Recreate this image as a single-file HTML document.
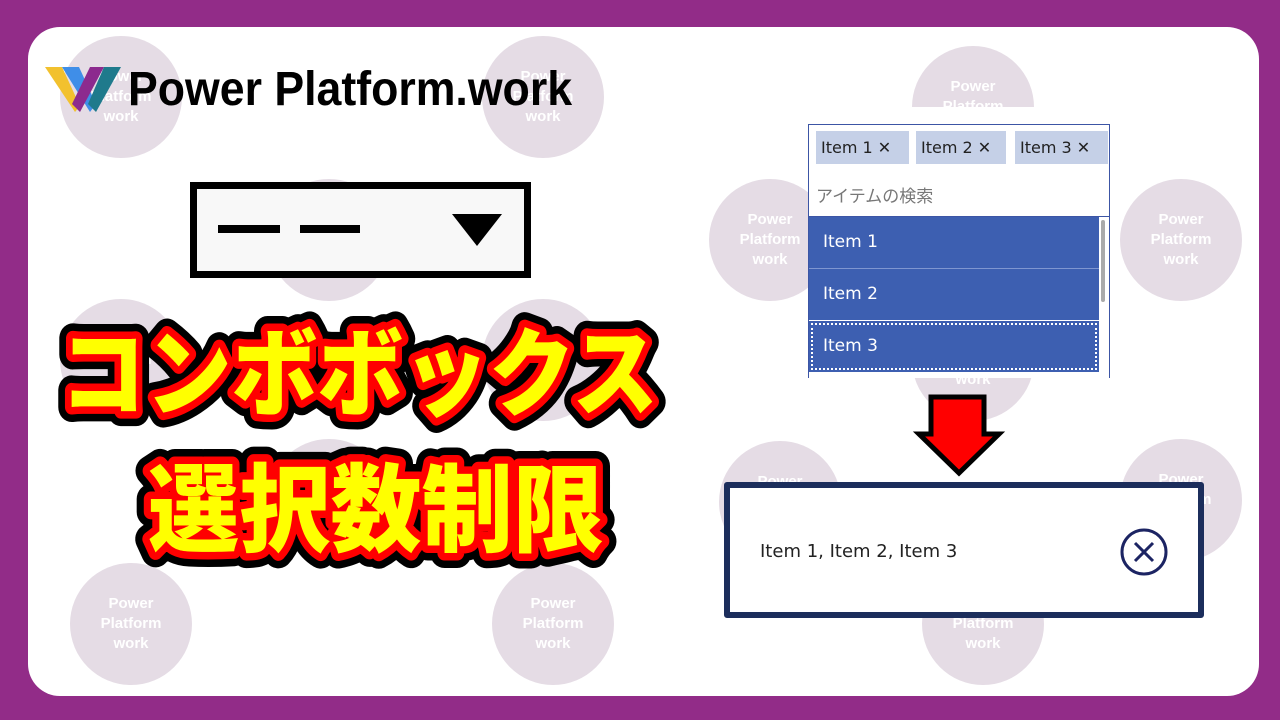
<!DOCTYPE html>
<html><head><meta charset="utf-8">
<style>
*{margin:0;padding:0;box-sizing:border-box}
body{width:1280px;height:720px;background:#922c88;position:relative;overflow:hidden;font-family:"Liberation Sans","Noto Sans CJK JP",sans-serif}
.card{position:absolute;left:28px;top:27px;width:1231px;height:669px;background:#fff;border-radius:32px;overflow:hidden}
.c{position:absolute;width:122px;height:122px;border-radius:50%;background:#e5dce5;color:#fff;font-weight:bold;font-size:15px;line-height:20px;text-align:center;padding-top:31px}
.tag{position:absolute;top:131px;height:33px;background:#c5d0e7;font-family:"DejaVu Sans",sans-serif;font-size:16px;line-height:33px;padding-left:5px;color:#222}
.row{position:absolute;left:809px;width:290px;height:51px;background:#3d5fb1;color:#fff;font-family:"DejaVu Sans",sans-serif;font-size:17px;line-height:51px;padding-left:14px}
</style></head><body>
<div class="card">
<div class="c" style="left:32px;top:9px">Power<br>Platform<br>work</div>
<div class="c" style="left:454px;top:9px">Power<br>Platform<br>work</div>
<div class="c" style="left:884px;top:19px">Power<br>Platform<br>work</div>
<div style="position:absolute;left:870px;top:80px;width:160px;height:60px;background:#fff"></div>
<div class="c" style="left:240px;top:152px">Power<br>Platform<br>work</div>
<div class="c" style="left:681px;top:152px">Power<br>Platform<br>work</div>
<div class="c" style="left:1092px;top:152px">Power<br>Platform<br>work</div>
<div class="c" style="left:32px;top:272px">Power<br>Platform<br>work</div>
<div class="c" style="left:454px;top:272px">Power<br>Platform<br>work</div>
<div class="c" style="left:884px;top:272px">Power<br>Platform<br>work</div>
<div class="c" style="left:240px;top:412px">Power<br>Platform<br>work</div>
<div class="c" style="left:691px;top:414px">Power<br>Platform<br>work</div>
<div class="c" style="left:1092px;top:412px">Power<br>Platform<br>work</div>
<div class="c" style="left:42px;top:536px">Power<br>Platform<br>work</div>
<div class="c" style="left:464px;top:536px">Power<br>Platform<br>work</div>
<div class="c" style="left:894px;top:536px">Power<br>Platform<br>work</div>
</div>

<svg style="position:absolute;left:0;top:0" width="1280" height="720">
<polygon points="45,67 62,67 80,106 75,112" fill="#f2c12e"/>
<polygon points="62,67 79,67 96,104 90,112" fill="#3f8ee8"/>
<polygon points="90,67 104,67 80,112 72,104" fill="#8c2a8e"/>
<polygon points="104,67 121,67 96,112 88,104" fill="#1f7a8c"/>
</svg>
<div style="position:absolute;left:128px;top:62px;font-size:48px;font-weight:bold;color:#000;transform:scaleX(0.93);transform-origin:left top;white-space:nowrap">Power Platform.work</div>

<div style="position:absolute;left:190px;top:182px;width:341px;height:96px;border:7px solid #000;background:#f8f8f8"></div>
<div style="position:absolute;left:218px;top:225px;width:62px;height:8px;background:#000"></div>
<div style="position:absolute;left:300px;top:225px;width:60px;height:8px;background:#000"></div>
<div style="position:absolute;left:452px;top:214px;width:0;height:0;border-left:25px solid transparent;border-right:25px solid transparent;border-top:32px solid #000"></div>

<svg style="position:absolute;left:0;top:0" width="1280" height="720" font-family="Noto Sans CJK JP, sans-serif" font-weight="900">
<g font-size="96" stroke-linejoin="round">
<text x="60" y="408" textLength="598" lengthAdjust="spacingAndGlyphs" stroke="#000" stroke-width="30" fill="#000">コンボボックス</text>
<text x="60" y="408" textLength="598" lengthAdjust="spacingAndGlyphs" stroke="#f00" stroke-width="15" fill="#f00">コンボボックス</text>
<text x="60" y="408" textLength="598" lengthAdjust="spacingAndGlyphs" fill="#ff0">コンボボックス</text>
<text x="148" y="544" textLength="456" lengthAdjust="spacingAndGlyphs" stroke="#000" stroke-width="30" fill="#000">選択数制限</text>
<text x="148" y="544" textLength="456" lengthAdjust="spacingAndGlyphs" stroke="#f00" stroke-width="15" fill="#f00">選択数制限</text>
<text x="148" y="544" textLength="456" lengthAdjust="spacingAndGlyphs" fill="#ff0">選択数制限</text>
</g>
</svg>

<div style="position:absolute;left:808px;top:124px;width:302px;height:254px;border:1px solid #3c55a5;border-bottom:none;background:#fff"></div>
<div class="tag" style="left:816px;width:93px">Item 1 ✕</div>
<div class="tag" style="left:916px;width:90px">Item 2 ✕</div>
<div class="tag" style="left:1015px;width:93px">Item 3 ✕</div>
<div style="position:absolute;left:816px;top:182px;font-size:17px;color:#777;font-family:'Noto Sans CJK JP',sans-serif">アイテムの検索</div>
<div style="position:absolute;left:809px;top:216px;width:300px;height:1px;background:#3c55a5"></div>
<div class="row" style="top:217px">Item 1</div>
<div style="position:absolute;left:809px;top:268px;width:290px;height:1px;background:#7f96d0"></div>
<div class="row" style="top:269px">Item 2</div>
<div class="row" style="top:321px;outline:2px dotted #fff;outline-offset:-4px">Item 3</div>
<div style="position:absolute;left:1099px;top:217px;width:10px;height:161px;background:#fff"></div>
<div style="position:absolute;left:1101px;top:220px;width:4px;height:82px;background:#aaa;border-radius:2px"></div>

<svg style="position:absolute;left:0;top:0" width="1280" height="720">
<polygon points="931,397 984,397 984,434 999,434 959,473 919,434 931,434" fill="#f00" stroke="#000" stroke-width="5" stroke-linejoin="miter"/>
</svg>

<div style="position:absolute;left:724px;top:482px;width:480px;height:136px;border:6px solid #1c2e5c;border-radius:3px;background:#fff"></div>
<div style="position:absolute;left:760px;top:541px;font-family:'DejaVu Sans',sans-serif;font-size:18px;color:#222">Item 1, Item 2, Item 3</div>
<svg style="position:absolute;left:1119px;top:528px" width="50" height="50"><circle cx="25" cy="24" r="22" fill="none" stroke="#1c2463" stroke-width="3"/><path d="M16 15 L34 33 M34 15 L16 33" stroke="#1c2463" stroke-width="3"/></svg>
</body></html>
